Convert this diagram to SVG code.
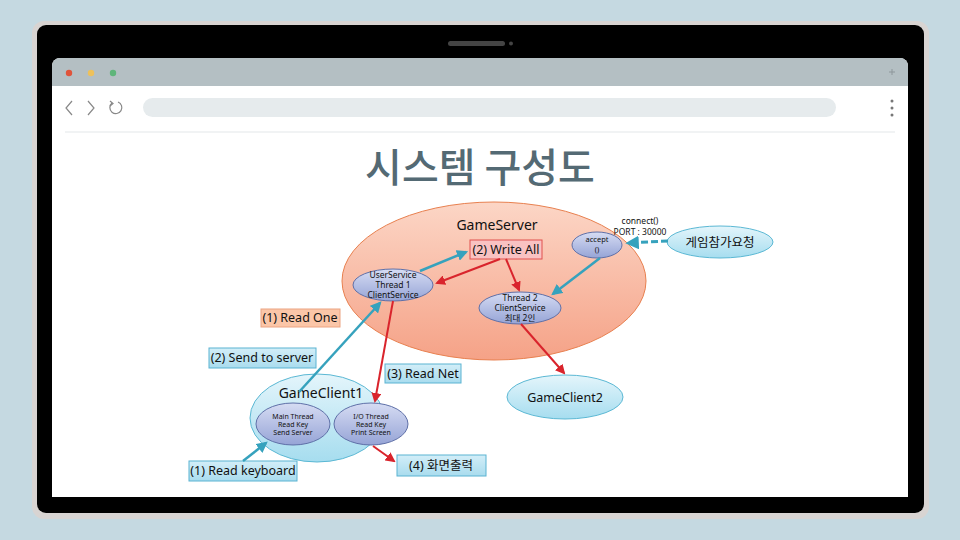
<svg xmlns="http://www.w3.org/2000/svg" width="960" height="540" viewBox="0 0 960 540">
<defs>
<linearGradient id="gServer" x1="0" y1="0" x2="0" y2="1"><stop offset="0" stop-color="#fcd6c6"/><stop offset="1" stop-color="#f5a287"/></linearGradient>
<linearGradient id="gThread" x1="0" y1="0" x2="0" y2="1"><stop offset="0" stop-color="#d6dcf3"/><stop offset="1" stop-color="#96a4d6"/></linearGradient>
<linearGradient id="gClient" x1="0" y1="0" x2="0" y2="1"><stop offset="0" stop-color="#e4f5fb"/><stop offset="1" stop-color="#a6ddef"/></linearGradient>
<linearGradient id="gBlueBox" x1="0" y1="0" x2="0" y2="1"><stop offset="0" stop-color="#d3eef8"/><stop offset="1" stop-color="#a9dcee"/></linearGradient>
<marker id="aTeal" viewBox="0 0 10 10" refX="8" refY="5" markerWidth="4.5" markerHeight="4.5" orient="auto"><path d="M0,0 L10,5 L0,10 z" fill="#36a2bd"/></marker>
<marker id="aRed" viewBox="0 0 10 10" refX="8" refY="5" markerWidth="5" markerHeight="5" orient="auto"><path d="M0,0 L10,5 L0,10 z" fill="#d9242c"/></marker>
<style>
.t{font-family:"Noto Sans","Noto Sans CJK KR",sans-serif;fill:#111}
.small{font-size:7px;text-anchor:middle}
.mid{font-size:8.5px;text-anchor:middle}
.lab{font-size:12.5px;text-anchor:middle}
.big{font-size:14px;text-anchor:middle}
.thread{fill:url(#gThread);stroke:#5f70a8;stroke-width:1}
.client{fill:url(#gClient);stroke:#5bb8d4;stroke-width:1}
.bbox{fill:url(#gBlueBox);stroke:#5ab3d2;stroke-width:1}
.teal{stroke:#36a2bd;stroke-width:2.5;fill:none;marker-end:url(#aTeal)}
.red{stroke:#d9242c;stroke-width:2;fill:none;marker-end:url(#aRed)}
</style>
</defs>
<rect width="960" height="540" fill="#c5d9e1"/>
<!-- device -->
<rect x="32" y="21" width="897" height="498" rx="12" fill="#d8d4d2"/>
<rect x="37" y="25" width="887" height="488" rx="9" fill="#000"/>
<rect x="448" y="41" width="57" height="5" rx="2.5" fill="#444"/>
<circle cx="511" cy="43.5" r="2" fill="#444"/>
<path d="M60,58 H900 a8,8 0 0 1 8,8 V497 H52 V66 a8,8 0 0 1 8,-8 z" fill="#fff"/>
<path d="M60,58 H900 a8,8 0 0 1 8,8 V86 H52 V66 a8,8 0 0 1 8,-8 z" fill="#b4bfc3"/>
<circle cx="69" cy="73" r="3.2" fill="#e0533a"/>
<circle cx="91" cy="73" r="3.2" fill="#eec15a"/>
<circle cx="113" cy="73" r="3.2" fill="#5fb57a"/>
<path d="M889,72 h6 M892,69 v6" stroke="#8e979b" stroke-width="1"/>
<path d="M72,101 L66,108 L72,115 M88,101 L94,108 L88,115" stroke="#888" stroke-width="1.2" fill="none"/>
<path d="M112,103 A6,6 0 1 0 118,102" stroke="#888" stroke-width="1.2" fill="none"/>
<path d="M110,101 L113,103.5 L110,106" stroke="#888" stroke-width="1.2" fill="none"/>
<rect x="143" y="98" width="693" height="19" rx="9.5" fill="#e6ebed"/>
<circle cx="892" cy="101" r="1.5" fill="#777"/><circle cx="892" cy="108" r="1.5" fill="#777"/><circle cx="892" cy="115" r="1.5" fill="#777"/>
<line x1="65" y1="132" x2="895" y2="132" stroke="#eceff0" stroke-width="1.5"/>
<text x="480" y="182" font-family="'Noto Sans CJK KR',sans-serif" font-size="40" font-weight="500" fill="#546a74" text-anchor="middle">시스템 구성도</text>

<!-- nodes -->
<g id="gameserver"><ellipse cx="494" cy="281" rx="152" ry="79" fill="url(#gServer)" stroke="#e8804f" stroke-width="1"/><text class="t big" x="497" y="230">GameServer</text></g>
<g id="writeall"><rect x="470" y="240" width="72" height="19" fill="#f9c2c2" stroke="#e0504f"/><text class="t lab" x="506" y="254">(2) Write All</text></g>
<g id="accept"><ellipse cx="597" cy="245" rx="25" ry="13" class="thread"/><text class="t" x="597" y="242" font-size="7.5" text-anchor="middle">accept</text><text class="t" x="597" y="252" font-size="7.5" text-anchor="middle">()</text></g>
<g id="userservice"><ellipse cx="393" cy="285" rx="40" ry="16" class="thread"/><text class="t mid" x="393" y="278">UserService</text><text class="t mid" x="393" y="288">Thread 1</text><text class="t mid" x="393" y="298">ClientService</text></g>
<g id="thread2"><ellipse cx="520" cy="308" rx="41" ry="16" class="thread"/><text class="t mid" x="520" y="301">Thread 2</text><text class="t mid" x="520" y="311">ClientService</text><text class="t mid" x="520" y="321">최대 2인</text></g>
<g id="joinreq"><ellipse cx="720" cy="242" rx="53" ry="16" class="client"/><text class="t lab" x="720" y="247">게임참가요청</text></g>
<g id="connectlabel"><text class="t mid" x="640" y="224" font-size="9">connect()</text><text class="t mid" x="640" y="235" font-size="9">PORT : 30000</text></g>
<g id="gameclient1"><ellipse cx="317" cy="418" rx="67" ry="44" class="client"/><text class="t big" x="321" y="398">GameClient1</text></g>
<g id="mainthread"><ellipse cx="293" cy="424" rx="37" ry="21" class="thread"/><text class="t small" x="293" y="419">Main Thread</text><text class="t small" x="293" y="427">Read Key</text><text class="t small" x="293" y="435">Send Server</text></g>
<g id="iothread"><ellipse cx="371" cy="424" rx="37" ry="21" class="thread"/><text class="t small" x="371" y="419">I/O Thread</text><text class="t small" x="371" y="427">Read Key</text><text class="t small" x="371" y="435">Print Screen</text></g>
<g id="gameclient2"><ellipse cx="565" cy="397" rx="58" ry="22" class="client"/><text class="t lab" x="565" y="402">GameClient2</text></g>
<g id="readone"><rect x="261" y="309" width="79" height="18" fill="#fbc6a8" stroke="#eca482"/><text class="t lab" x="300" y="322">(1) Read One</text></g>
<g id="sendtoserver"><rect x="209" y="348" width="107" height="20" class="bbox"/><text class="t lab" x="262" y="362">(2) Send to server</text></g>
<g id="readnet"><rect x="385" y="364" width="76" height="19" class="bbox"/><text class="t lab" x="423" y="378">(3) Read Net</text></g>
<g id="readkeyboard"><rect x="189" y="461" width="108" height="20" class="bbox"/><text class="t lab" x="243" y="475">(1) Read keyboard</text></g>
<g id="screenout"><rect x="397" y="455" width="89" height="21" class="bbox"/><text class="t lab" x="441" y="470">(4) 화면출력</text></g>

<!-- connectors -->
<g id="connectors">
<line x1="668" y1="241" x2="628" y2="243" stroke="#36a2bd" stroke-width="3" stroke-dasharray="7,3" marker-end="url(#aTeal)"/>
<line x1="600" y1="258" x2="553" y2="294" class="teal"/>
<line x1="420" y1="271" x2="466" y2="252" class="teal"/>
<line x1="500" y1="259" x2="437" y2="283" class="red"/>
<line x1="506" y1="259" x2="519" y2="290" class="red"/>
<line x1="521" y1="324" x2="564" y2="373" class="red"/>
<line x1="299" y1="392" x2="380" y2="303" class="teal"/>
<line x1="393" y1="301" x2="375" y2="401" class="red"/>
<line x1="243" y1="461" x2="266" y2="443" class="teal"/>
<line x1="373" y1="446" x2="394" y2="461" class="red"/>
</g>
</svg>
